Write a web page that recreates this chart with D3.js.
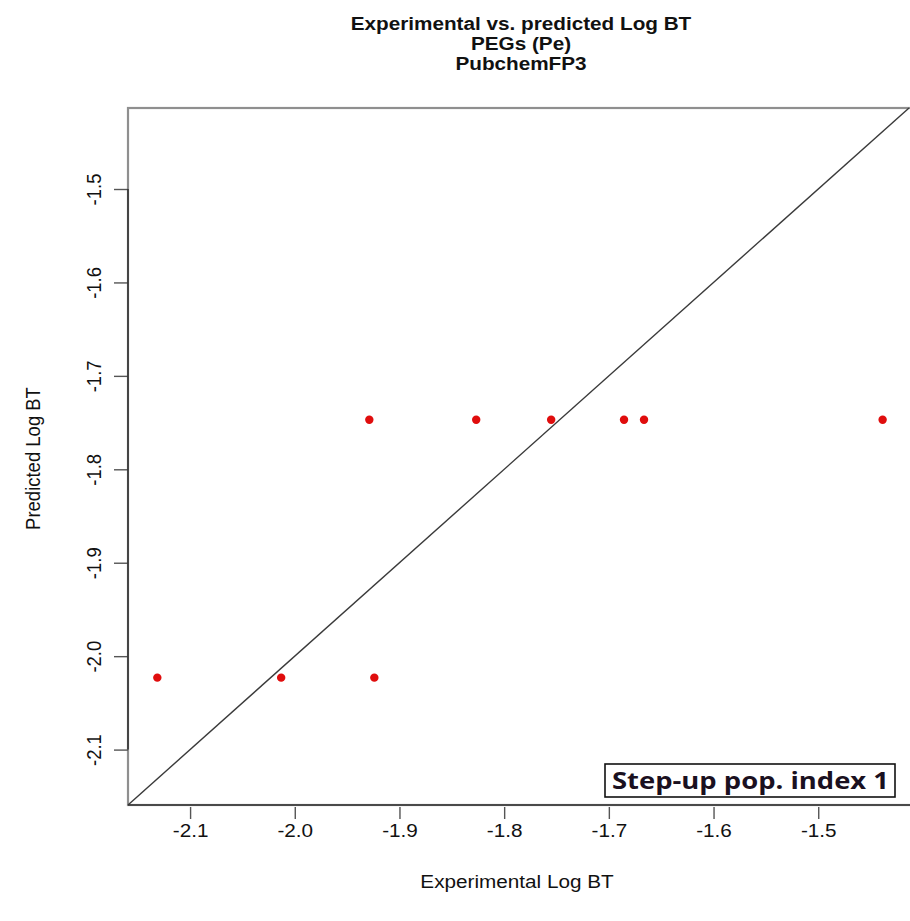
<!DOCTYPE html>
<html>
<head>
<meta charset="utf-8">
<script src="https://cdn.jsdelivr.net/npm/d3@7"></script>
<style>
  html, body { margin: 0; padding: 0; background: #fff; }
  svg { display: block; }
</style>
</head>
<body>
<script>
// Experimental vs predicted log BT values
const experimental = [-1.9288, -1.8267, -1.7551, -1.6855, -1.6664, -1.4385, -2.1313, -2.0130, -1.9240];
const predicted    = [-1.7470, -1.7470, -1.7470, -1.7470, -1.7470, -1.7470, -2.0230, -2.0230, -2.0230];
const xTicks = [-2.1, -2.0, -1.9, -1.8, -1.7, -1.6, -1.5];
const yTicks = [-2.1, -2.0, -1.9, -1.8, -1.7, -1.6, -1.5];
const titleLines = ["Experimental vs. predicted Log BT", "PEGs (Pe)", "PubchemFP3"];
const legendText = "Step-up pop. index 1";

const W = 910, H = 921;
const plotL = 128, plotR = 909, plotT = 108, plotB = 805;
const domain = [-2.1593, -1.4133];
const stretch = 1.12;          // horizontal widening of the glyphs
const fmt = d => d.toFixed(1); // plain hyphen-minus labels

const svg = d3.select("body").append("svg").attr("width", W).attr("height", H);
const x = d3.scaleLinear().domain(domain).range([plotL, plotR]);
const y = d3.scaleLinear().domain(domain).range([plotB, plotT]);

const font = "'Liberation Sans', Arial, Helvetica, sans-serif";

// plot frame
svg.append("rect")
  .attr("x", plotL).attr("y", plotT)
  .attr("width", plotR - plotL + 4).attr("height", plotB - plotT)
  .attr("fill", "none").attr("stroke", "#8f8f8f").attr("stroke-width", 2.2);

// identity line
svg.append("line")
  .attr("x1", x(domain[0])).attr("y1", y(domain[0]))
  .attr("x2", x(domain[1])).attr("y2", y(domain[1]))
  .attr("stroke", "#3a3a3a").attr("stroke-width", 1.4);

// axes
const xAxis = d3.axisBottom(x).tickValues(xTicks).tickFormat(fmt).tickSize(14).tickPadding(6);
const yAxis = d3.axisLeft(y).tickValues(yTicks).tickFormat(fmt).tickSize(14).tickPadding(6);

const gx = svg.append("g").attr("transform", `translate(0,${plotB})`).call(xAxis);
gx.select(".domain").remove();
gx.append("line").attr("x1", plotL).attr("x2", plotR + 2).attr("y1", 0).attr("y2", 0)
  .attr("stroke", "#333").attr("stroke-width", 1.6);
gx.selectAll(".tick line").attr("stroke", "#555").attr("stroke-width", 1.4).attr("y1", 2);
gx.selectAll(".tick text")
  .attr("font-family", font).attr("font-size", 18.5).attr("fill", "#111")
  .attr("x", 0).attr("y", 0).attr("dy", 0)
  .attr("transform", `translate(0,32) scale(${stretch},1)`);

const gy = svg.append("g").attr("transform", `translate(${plotL},0)`).call(yAxis);
gy.select(".domain").remove();
gy.append("line").attr("x1", 0).attr("x2", 0)
  .attr("y1", y(yTicks[0])).attr("y2", y(yTicks[yTicks.length - 1]))
  .attr("stroke", "#333").attr("stroke-width", 1.6);
gy.selectAll(".tick line").attr("stroke", "#555").attr("stroke-width", 1.4);
gy.selectAll(".tick text")
  .attr("font-family", font).attr("font-size", 18.5).attr("fill", "#111")
  .attr("text-anchor", "middle")
  .attr("x", 0).attr("y", 0).attr("dy", 0)
  .attr("transform", `translate(-27,0) scale(${stretch},1) rotate(-90)`);

// points
svg.append("g").selectAll("circle")
  .data(experimental.map((e, i) => [e, predicted[i]]))
  .join("circle")
  .attr("cx", d => x(d[0])).attr("cy", d => y(d[1]))
  .attr("r", 4.2).attr("fill", "#e00d0d");

// titles
const cx = 521;
svg.append("g").selectAll("text").data(titleLines).join("text")
  .attr("transform", (d, i) => `translate(${cx},${30 + i * 20}) scale(${stretch},1)`)
  .attr("text-anchor", "middle")
  .attr("font-family", font).attr("font-weight", "bold").attr("font-size", 18.5)
  .attr("fill", "#111").text(d => d);

svg.append("text")
  .attr("transform", `translate(${cx - 4},888) scale(${stretch},1)`)
  .attr("text-anchor", "middle")
  .attr("font-family", font).attr("font-size", 18.5).attr("fill", "#111")
  .text("Experimental Log BT");

svg.append("text")
  .attr("transform", `translate(40,${(plotT + plotB) / 2 + 2}) scale(${stretch},1) rotate(-90)`)
  .attr("text-anchor", "middle")
  .attr("font-family", font).attr("font-size", 18.5).attr("fill", "#111")
  .text("Predicted Log BT");

// legend box
const lg = svg.append("g");
lg.append("rect")
  .attr("x", 605).attr("y", 764).attr("width", 290).attr("height", 33)
  .attr("fill", "#fff").attr("stroke", "#111").attr("stroke-width", 1.6);
lg.append("text")
  .attr("x", 612).attr("y", 789)
  .attr("textLength", 277).attr("lengthAdjust", "spacingAndGlyphs")
  .attr("font-family", "'Open Sans', 'DejaVu Sans', sans-serif").attr("font-weight", "bold")
  .attr("font-size", 23.5).attr("fill", "#1a1020")
  .text(legendText);
</script>
</body>
</html>
